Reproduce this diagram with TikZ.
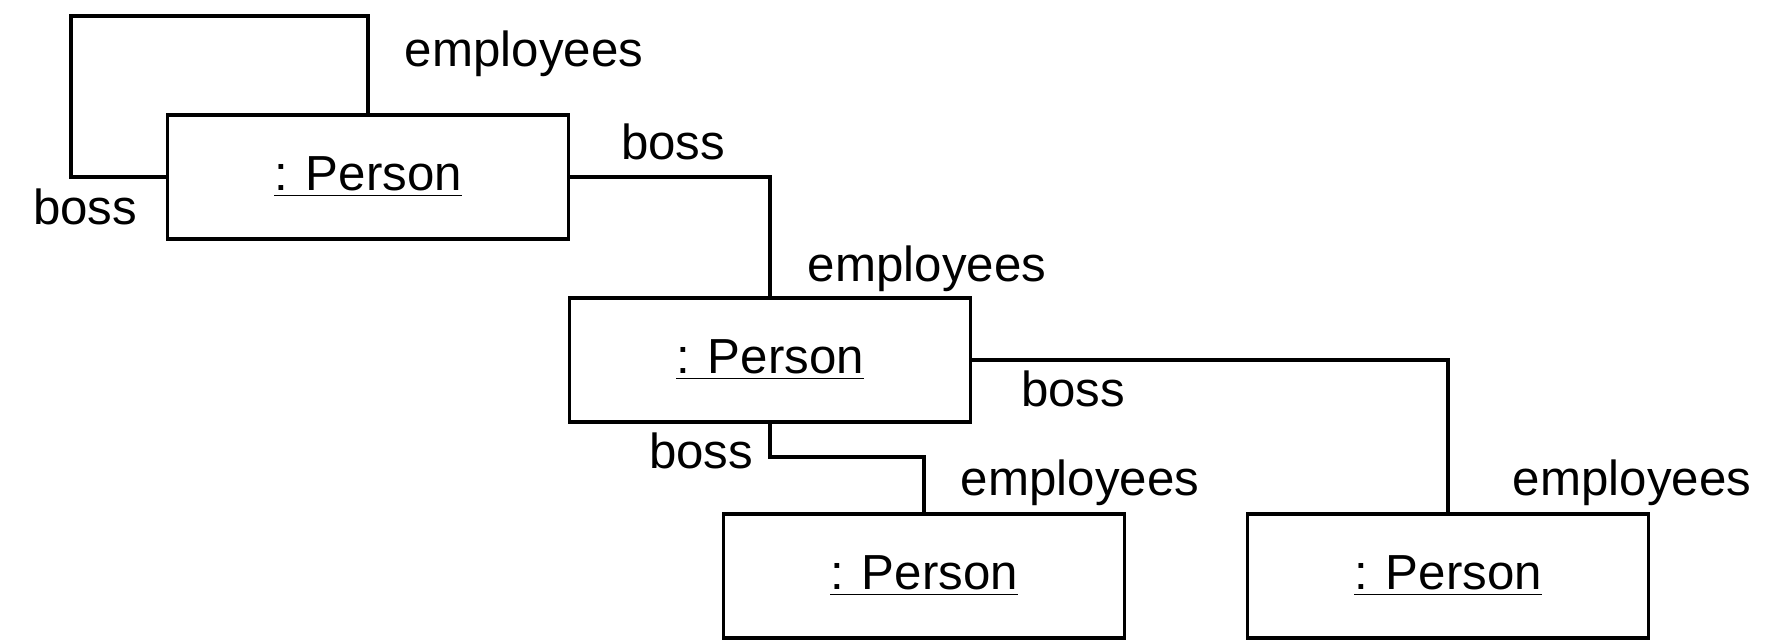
\documentclass[tikz,border=0pt]{standalone}
\usepackage{fontspec}
\setmainfont{Liberation Sans}
\usetikzlibrary{positioning}

\tikzset{
    objbox/.style={draw, line width=0.9pt, minimum width=4cm, minimum height=1.24cm, inner sep=0pt},
    link/.style={line width=0.9pt},
    role/.style={inner sep=0pt}
}

\begin{document}
\begin{tikzpicture}[x=0.01cm,y=-0.01cm,font=\fontsize{14}{16}\selectfont]
    		\useasboundingbox (0,0) rectangle (1768,641);

    		% Draw the objects
    		\node[objbox] (top)   at (368,177)  {\underline{: Person}};
    		\node[objbox] (mid)   at (770,360)  {\underline{: Person}};
    		\node[objbox] (left)  at (924,576)  {\underline{: Person}};
    		\node[objbox] (right) at (1448,576) {\underline{: Person}};

    		% Self association
    		\coordinate (loop) at (71,16);
    		\draw[link] (top.west) -| (loop) -| (top.north);
    		\node[role] (loopemp)  at (524,54)  {employees};
    		\node[role] (loopboss) at (85,207)  {boss};

    		% top -- mid
    		\draw[link] (top.east) -| (mid.north);
    		\node[role] (topboss) at (673,142) {boss};
    		\node[role] (midemp)  at (927,269) {employees};

    		% mid -- right
    		\draw[link] (mid.east) -| (right.north);
    		\node[role] (midboss)  at (1073,389) {boss};
    		\node[role] (rightemp) at (1632,483) {employees};

    		% mid -- left
    		\coordinate (bend) at (770,457);
    		\draw[link] (mid.south) -- (bend) -| (left.north);
    		\node[role] (midboss2) at (701,451) {boss};
    		\node[role] (leftemp)  at (1080,483) {employees};
    	\end{tikzpicture}
\end{document}
